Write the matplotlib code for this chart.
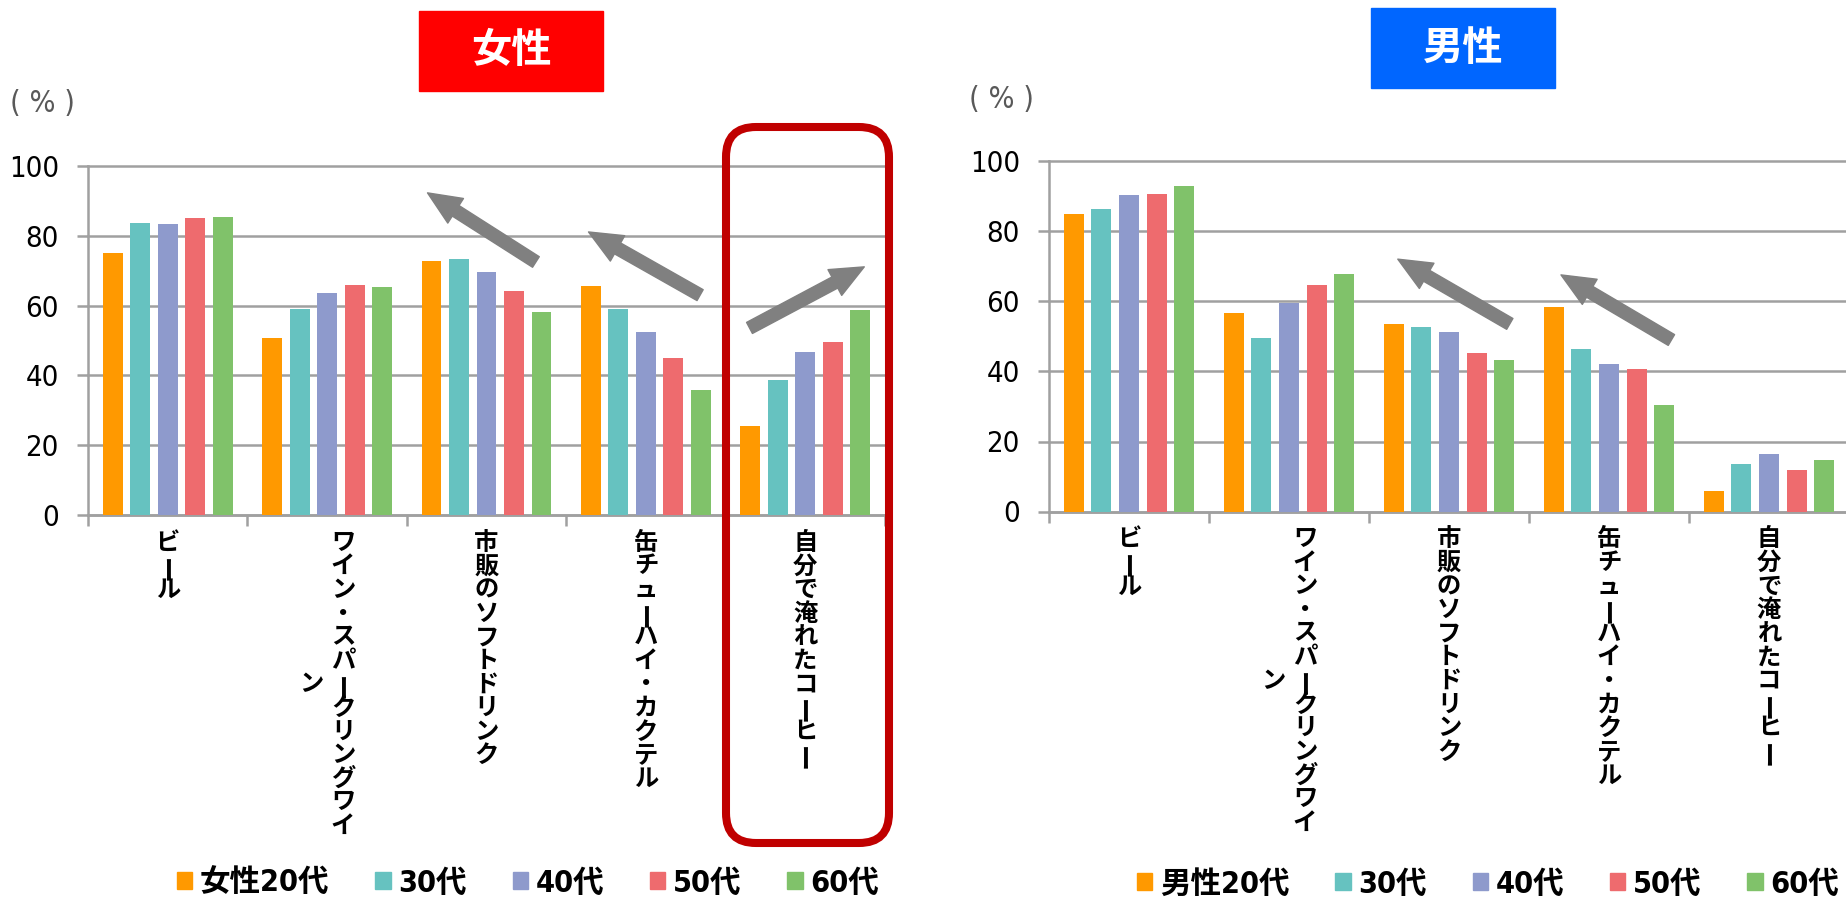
import matplotlib
matplotlib.use("Agg")
import matplotlib.pyplot as plt
from matplotlib.patches import Patch, Rectangle, FancyBboxPatch
from matplotlib.transforms import IdentityTransform
import numpy as np

plt.rcParams['font.family'] = ['DejaVu Sans', 'Noto Sans CJK JP']
plt.rcParams['font.stretch'] = 'condensed'

categories = ["ビール", "ワイン・スパークリングワイン", "市販のソフトドリンク",
              "缶チューハイ・カクテル", "自分で淹れたコーヒー"]
ages = ["20代", "30代", "40代", "50代", "60代"]
colors = ["#FF9900", "#66C2C0", "#8E9ACC", "#EE6B6E", "#80C26A"]

# 女性
female_20 = [75.2, 50.7, 72.8, 65.7, 25.4]
female_30 = [83.6, 59.0, 73.4, 59.1, 38.7]
female_40 = [83.5, 63.5, 69.7, 52.5, 46.8]
female_50 = [85.0, 65.9, 64.2, 45.1, 49.7]
female_60 = [85.4, 65.2, 58.2, 35.8, 58.6]

# 男性
male_20 = [85.0, 56.6, 53.6, 58.3, 6.0]
male_30 = [86.4, 49.7, 52.7, 46.3, 13.6]
male_40 = [90.4, 59.6, 51.4, 42.2, 16.4]
male_50 = [90.6, 64.8, 45.3, 40.7, 12.0]
male_60 = [93.0, 67.8, 43.4, 30.3, 14.8]

# trend arrows (tail -> head) in data coords
female_arrows = [((2.31, 72.5), (1.63, 92.3)),
                 ((3.34, 63.0), (2.64, 81.1)),
                 ((3.65, 53.6), (4.37, 71.1))]
male_arrows = [((2.38, 53.6), (1.68, 72.1)),
               ((3.39, 49.0), (2.70, 67.6))]

W, H = 1846, 898
fig = plt.figure(figsize=(W / 100, H / 100), dpi=100)

GRID = "#A0A0A0"
CJK = ['Noto Sans CJK JP', 'DejaVu Sans']


def draw_labels(ax, cats, wrap=13, pitch=17.0, top=20):
    # vertical (tategaki) labels, one character per position
    for i, lab in enumerate(cats):
        cols = [lab[k:k + wrap] for k in range(0, len(lab), wrap)]
        n0 = len(cols[0])
        if len(cols) == 1:
            dxs = [0]
        else:
            dxs = [11.5, -11.5]
        for c, col in enumerate(cols):
            start = (n0 - len(col)) / 2
            for k, ch in enumerate(col):
                long_vowel = ch == "ー"
                ax.annotate(ch, xy=(i, 0), xycoords=('data', 'axes fraction'),
                            xytext=(dxs[c] + (1.5 if long_vowel else 0),
                                    -(top + (start + k) * pitch)),
                            textcoords='offset points', ha='center', va='center',
                            rotation=90 if long_vowel else 0,
                            fontsize=19 if long_vowel else 17.5,
                            fontweight='bold', family=CJK, fontstretch='normal')


def make_chart(rect, series, arrows, legend_first, legend_xy):
    ax = fig.add_axes(rect)
    x = np.arange(len(categories))
    for j, vals in enumerate(series):
        ax.bar(x + (j - 2) * 0.1725, vals, width=0.125, color=colors[j], zorder=3)
    ax.set_xlim(-0.5, len(categories) - 0.5)
    ax.set_ylim(0, 100)
    ax.set_yticks(range(0, 101, 20))
    ax.yaxis.grid(True, color=GRID, lw=1.8, zorder=0)
    for l in ax.get_ygridlines():
        l.set_clip_on(False)
    for s in ["top", "right"]:
        ax.spines[s].set_visible(False)
    for s in ["left", "bottom"]:
        ax.spines[s].set_color(GRID)
        ax.spines[s].set_linewidth(1.8)
    ax.set_xticks(x)
    ax.set_xticklabels([])
    ax.set_xticks(np.arange(-0.5, len(categories)), minor=True)
    ax.tick_params(axis='x', which='major', length=0)
    ax.tick_params(axis='x', which='minor', length=8, width=1.8, color=GRID)
    ax.tick_params(axis='y', length=8, width=1.8, color=GRID, pad=13, labelsize=21)
    draw_labels(ax, categories)

    for tail, head in arrows:
        ax.annotate("", xy=head, xytext=tail,
                    arrowprops=dict(arrowstyle="simple,head_length=1.2,head_width=1.05,tail_width=0.45",
                                    color="#808080", mutation_scale=20, shrinkA=0, shrinkB=0),
                    zorder=5, annotation_clip=False)

    handles = [Patch(color=c) for c in colors]
    labels = [legend_first + ages[0]] + ages[1:]
    fig.legend(handles, labels, loc='center', bbox_to_anchor=legend_xy, ncol=5,
               frameon=False, handlelength=0.5, handleheight=0.45, handletextpad=0.25,
               columnspacing=1.5,
               prop=dict(family=['DejaVu Sans', 'Noto Sans CJK JP'], size=22,
                         weight='bold', stretch='condensed'))
    return ax


ax1 = make_chart([88 / W, 1 - 515 / H, 797 / W, 349 / H],
                 [female_20, female_30, female_40, female_50, female_60],
                 female_arrows, "女性", (528 / W, 1 - 883 / H))
ax2 = make_chart([1049 / W, 1 - 511.5 / H, 800 / W, 350 / H],
                 [male_20, male_30, male_40, male_50, male_60],
                 male_arrows, "男性", (1488 / W, 1 - 884 / H))

# title boxes
for (x0, y0, c, txt) in [(419, 11, "#FF0000", "女性"), (1371, 8, "#0066FF", "男性")]:
    fig.patches.append(Rectangle((x0 / W, 1 - (y0 + 80) / H), 184 / W, 80 / H,
                                 transform=fig.transFigure, color=c, zorder=1))
    fig.text((x0 + 92) / W, 1 - (y0 + 40) / H, txt, color="white", fontsize=29,
             fontweight='bold', family=CJK, ha='center', va='center')

# (%) labels
fig.text(10 / W, 1 - 103 / H, "( % )", fontsize=22, color="#595959",
         ha='left', va='center')
fig.text(969 / W, 1 - 99 / H, "( % )", fontsize=22, color="#595959",
         ha='left', va='center')

# highlight box around 自分で淹れたコーヒー (pixels)
fig.add_artist(FancyBboxPatch((726, H - 843), 163, 716,
                              boxstyle="round,pad=0,rounding_size=30",
                              transform=IdentityTransform(), fill=False,
                              edgecolor="#C00000", linewidth=5.8, zorder=10))

fig.savefig("out.png", dpi=100)
